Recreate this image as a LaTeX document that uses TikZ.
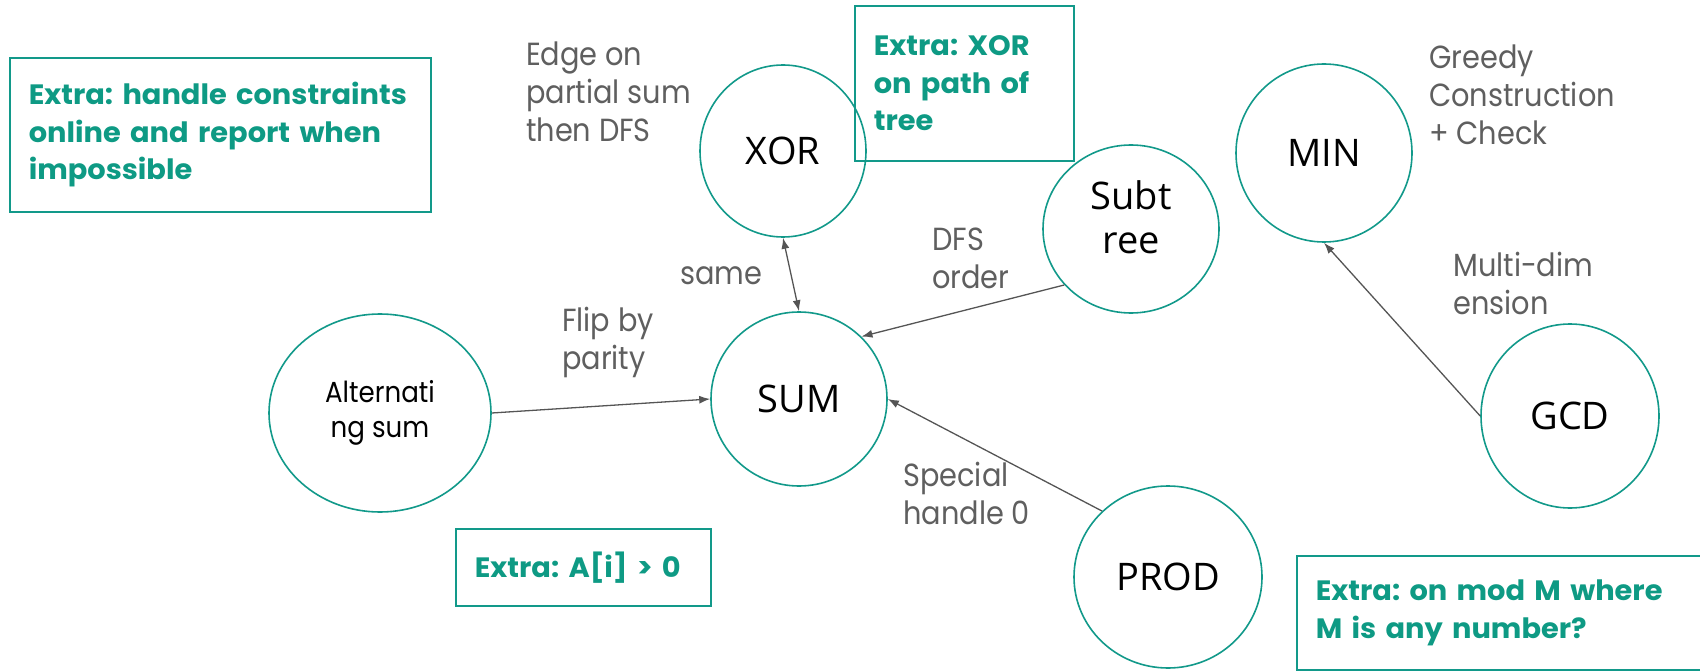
\documentclass[tikz,border=0pt]{standalone}
\usepackage{fontspec}
\setmainfont{Poppins}[FakeStretch=0.9]
\newfontfamily\topicfont{Open Sans}
\newfontfamily\extrafont{Poppins}[FakeStretch=1.03]
\usetikzlibrary{shapes.geometric,arrows.meta}
\definecolor{teal}{HTML}{12998A}
\definecolor{tealtext}{HTML}{0E9A84}
\definecolor{labelgray}{HTML}{5F5F5F}
\definecolor{arrowgray}{HTML}{555555}
\tikzset{
  topic/.style={ellipse, draw=teal, line width=1.6pt, inner sep=0pt,
    font=\topicfont\fontsize{38}{44}\selectfont, align=center, text=black},
  note/.style={font=\fontsize{32}{38}\selectfont, text=labelgray, align=left, inner sep=0pt},
  extra/.style={draw=teal, line width=1.6pt, font=\extrafont\fontsize{28}{37.5}\selectfont\bfseries,
    text=tealtext, align=left, inner xsep=19pt, inner ysep=0pt, anchor=north west},
  link/.style={draw=arrowgray, line width=1.3pt, -{Latex[length=11pt,width=8pt]}},
}
\frenchspacing
\begin{document}
\begin{tikzpicture}[x=1pt, y=-1pt]
\useasboundingbox (0,0) rectangle (1700,671);

% topic circles
\node[topic, minimum width=166pt, minimum height=172pt] (xor) at (783,151) {XOR};
\node[topic, minimum width=176pt, minimum height=174pt] (sum) at (799,399) {SUM};
\node[topic, minimum width=176pt, minimum height=168pt] (sub) at (1131,229) {Subt\\ree\rule[-24pt]{0pt}{0pt}};
\node[topic, minimum width=176pt, minimum height=178pt] (min) at (1324,153) {MIN};
\node[topic, minimum width=178pt, minimum height=184pt] (gcd) at (1570,416) {GCD};
\node[topic, minimum width=188pt, minimum height=182pt] (prod) at (1168,577) {PROD};
\node[topic, minimum width=222pt, minimum height=198pt, font=\fontsize{29}{35}\selectfont] (alt) at (380,413) {Alternati\\ng sum};

% connectors
\draw[link, {Latex[length=11pt,width=8pt]}-{Latex[length=11pt,width=8pt]}] (xor.south) -- (sum.north);
\draw[link] (alt.east) -- (sum.west);
\draw[link] (sub.220) -- (sum.45);
\draw[link] (prod.135) -- (sum.east);
\draw[link] (gcd.west) -- (min.south);

% edge notes
\node[note, anchor=west] (n1) at (526,92) {Edge on\\partial sum\\then DFS};
\node[note, anchor=west] (n2) at (680,276) {same};
\node[note, anchor=west] (n3) at (562,342) {Flip by\\parity};
\node[note, anchor=west] (n4) at (932,258) {DFS\\order};
\node[note, anchor=west] (n5) at (903,493) {Special\\handle 0};
\node[note, anchor=west] (n6) at (1429,95) {Greedy\\Construction\\+ Check};
\node[note, anchor=west] (n7) at (1453,283) {Multi-dim\\ension};

% extra boxes
\node[extra, text width=383pt, minimum height=154pt] (e1) at (9,57)
  {Extra: handle constraints\\online and report when\\impossible};
\node[extra, text width=181pt, minimum height=155pt] (e2) at (854,5)
  {Extra: XOR\\on path of\\tree};
\node[extra, text width=217pt, minimum height=77pt] (e3) at (455,528)
  {Extra: A[i] > 0};
\node[extra, text width=420pt, minimum height=114pt] (e4) at (1296,555)
  {Extra: on mod M where\\M is any number?};
\end{tikzpicture}
\end{document}
